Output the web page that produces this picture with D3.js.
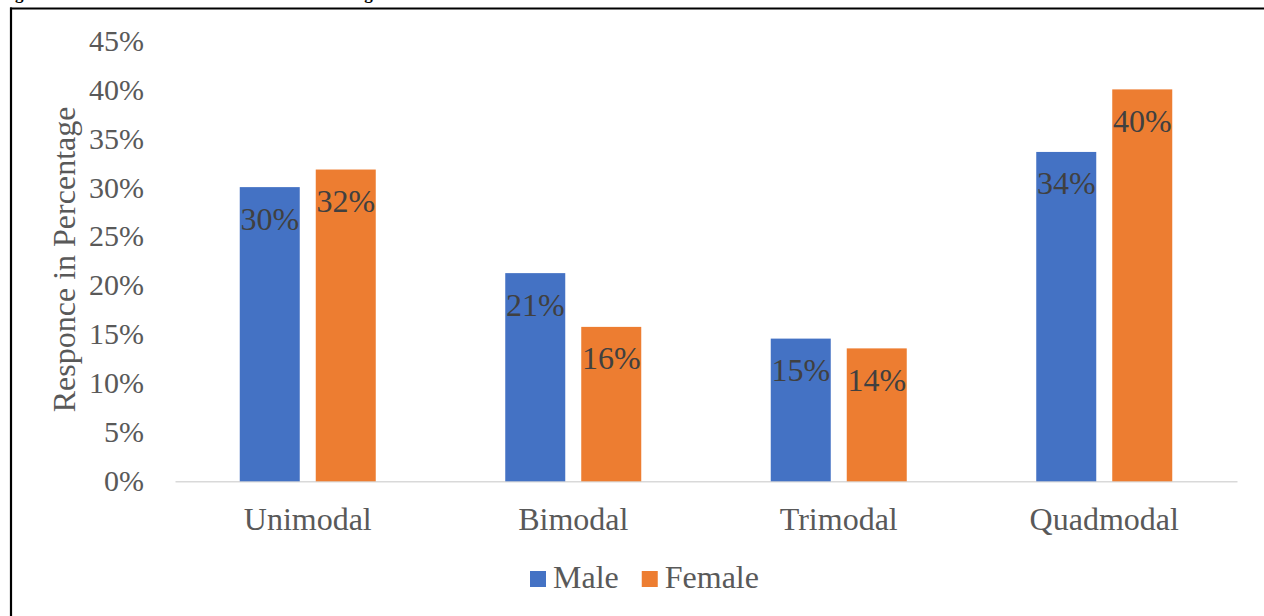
<!DOCTYPE html>
<html>
<head>
<meta charset="utf-8">
<script src="https://cdn.jsdelivr.net/npm/d3@7"></script>
<style>
  html, body { margin: 0; padding: 0; background: #fff; overflow: hidden; }
  svg { display: block; }
  text { font-family: "Liberation Serif", "Times New Roman", serif; }
</style>
</head>
<body>
<svg id="chart" width="1264" height="616"></svg>
<script>
// Modality categories and response shares (%) by gender
const categories = ["Unimodal", "Bimodal", "Trimodal", "Quadmodal"];
const seriesNames = ["Male", "Female"];
const maleValues = [30.1, 21.3, 14.6, 33.7];
const femaleValues = [31.9, 15.8, 13.6, 40.1];
const yTicks = [0, 5, 10, 15, 20, 25, 30, 35, 40, 45];
const colors = ["#4472C4", "#ED7D31"];

const seriesValues = [maleValues, femaleValues];
const rows = categories.map((c, i) => ({
  category: c,
  values: seriesNames.map((s, j) => ({ series: s, idx: j, value: seriesValues[j][i] }))
}));

const svg = d3.select("#chart");

// Figure caption (runs off the top of the page)
svg.append("text")
  .attr("x", 0).attr("y", -1)
  .attr("font-size", 17).attr("font-weight", "bold").attr("fill", "#000")
  .text("Figure 4: Distribution of Students' Modal Learning Across Gender");

// Surrounding frame
svg.append("line").attr("x1", 10).attr("x2", 1264).attr("y1", 8.5).attr("y2", 8.5)
  .attr("stroke", "#000").attr("stroke-width", 2.2);
svg.append("line").attr("x1", 11).attr("x2", 11).attr("y1", 7.5).attr("y2", 616)
  .attr("stroke", "#000").attr("stroke-width", 2.2);

const x0 = d3.scaleBand().domain(categories).range([175, 1237]).paddingInner(0).paddingOuter(0);
const groupWidth = 136;
const barGap = 16;
const x1 = d3.scaleBand().domain(seriesNames).range([0, groupWidth])
  .paddingInner(2 * barGap / (groupWidth + barGap));
const y = d3.scaleLinear().domain([0, 45]).range([481.3, 41.5]);

// Y axis labels
const yAxis = svg.append("g")
  .attr("transform", "translate(175,0)")
  .call(d3.axisLeft(y).tickValues(yTicks).tickSize(0).tickPadding(31).tickFormat(d => d + "%"));
yAxis.select(".domain").remove();
yAxis.selectAll("text")
  .attr("font-size", 30).attr("fill", "#595959")
  .attr("font-family", "\"Liberation Serif\", \"Times New Roman\", serif")
  .attr("dy", "0.3em");

// Category axis line and labels
const xAxis = svg.append("g")
  .attr("transform", `translate(0,${y(0)})`)
  .call(d3.axisBottom(x0).tickSize(0).tickPadding(0));
xAxis.select(".domain").attr("stroke", "#D9D9D9").attr("stroke-width", 1.5);
xAxis.selectAll("text")
  .attr("font-size", 32).attr("fill", "#595959")
  .attr("font-family", "\"Liberation Serif\", \"Times New Roman\", serif")
  .attr("dy", null).attr("y", 49);

// Axis title
svg.append("text")
  .attr("transform", `translate(75,${(y(0) + y(45)) / 2 - 2}) rotate(-90)`)
  .attr("text-anchor", "middle")
  .attr("font-size", 32).attr("fill", "#595959")
  .text("Responce in Percentage");

// Bars
const groups = svg.selectAll("g.group").data(rows).join("g")
  .attr("class", "group")
  .attr("transform", d => `translate(${x0(d.category) + (x0.bandwidth() - groupWidth) / 2},0)`);

groups.selectAll("rect").data(d => d.values).join("rect")
  .attr("x", d => x1(d.series))
  .attr("width", x1.bandwidth())
  .attr("y", d => y(d.value))
  .attr("height", d => y(0) - y(d.value))
  .attr("fill", d => colors[d.idx]);

// Value labels inside the bar ends
groups.selectAll("text.val").data(d => d.values).join("text")
  .attr("class", "val")
  .attr("x", d => x1(d.series) + x1.bandwidth() / 2)
  .attr("y", d => y(d.value) + 42.5)
  .attr("text-anchor", "middle")
  .attr("font-size", 32).attr("fill", "#404040")
  .text(d => Math.round(d.value) + "%");

// Legend
const legend = svg.append("g").attr("transform", "translate(530,0)");
let lx = 0;
seriesNames.forEach((name, i) => {
  legend.append("rect").attr("x", lx).attr("y", 571).attr("width", 16).attr("height", 16)
    .attr("fill", colors[i]);
  const t = legend.append("text").attr("x", lx + 23).attr("y", 588)
    .attr("font-size", 32).attr("fill", "#595959").text(name);
  lx += 23 + t.node().getComputedTextLength() + 23;
});
</script>
</body>
</html>
